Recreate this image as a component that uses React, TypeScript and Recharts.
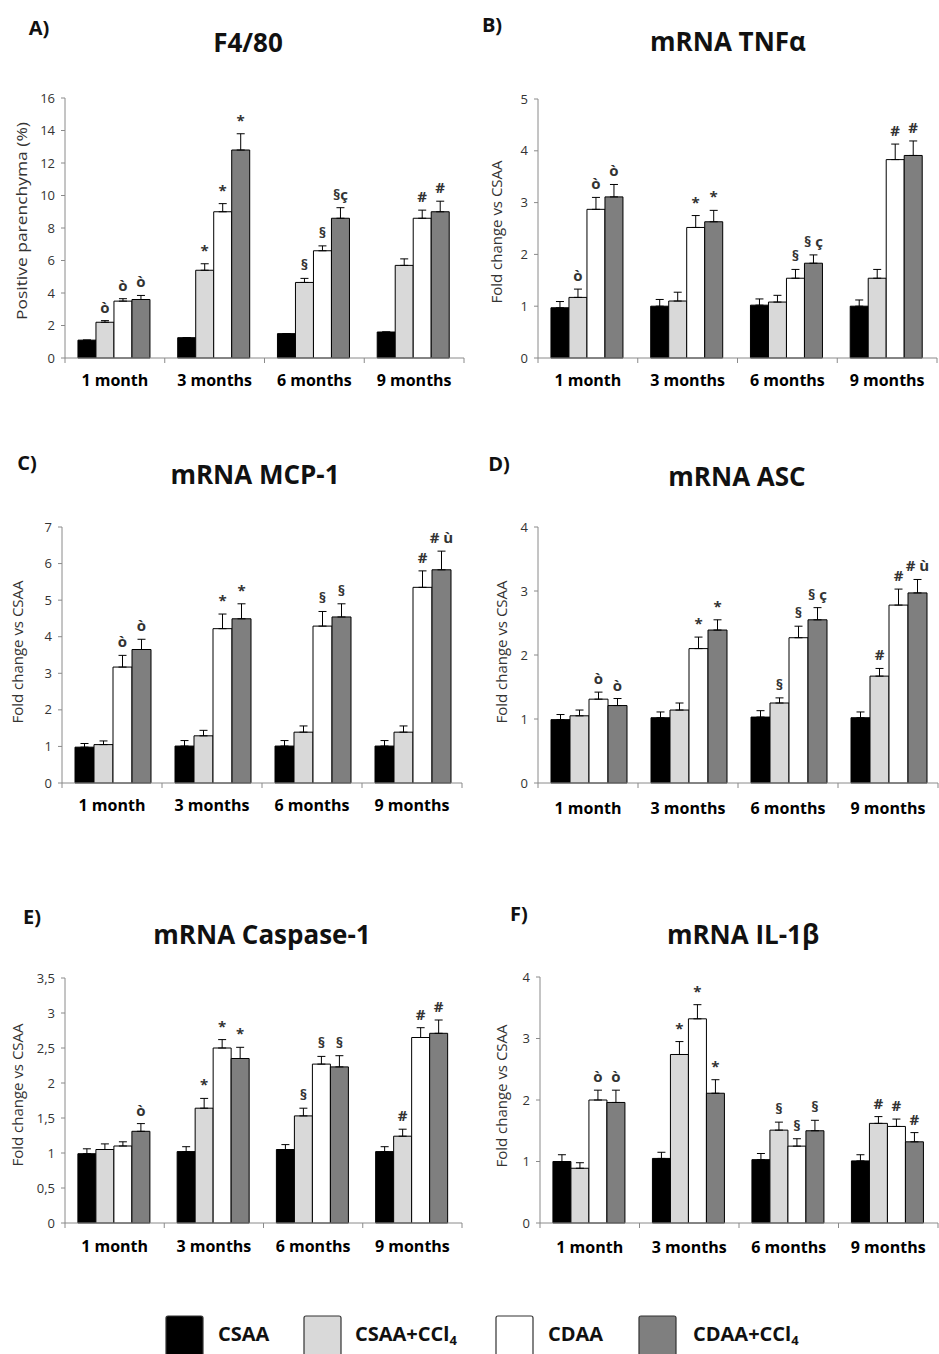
import { Bar, BarChart, ErrorBar, LabelList, XAxis, YAxis } from "recharts";

const months = ["1 month", "3 months", "6 months", "9 months"];
const groups = ["CSAA", "CSAA+CCl4", "CDAA", "CDAA+CCl4"];
const fills = ["#000000", "#d9d9d9", "#ffffff", "#7f7f7f"];

// one row per diet group, one value per month
const f480Mean = [
  [1.1, 1.25, 1.5, 1.6],
  [2.2, 5.4, 4.65, 5.7],
  [3.5, 9.0, 6.6, 8.6],
  [3.6, 12.8, 8.6, 9.0],
];
const f480Err = [
  [0, 0, 0, 0],
  [0.1, 0.4, 0.25, 0.4],
  [0.15, 0.5, 0.3, 0.5],
  [0.25, 1.0, 0.65, 0.65],
];
const f480Marks = [
  ["", "", "", ""],
  ["ò", "*", "§", ""],
  ["ò", "*", "§", "#"],
  ["ò", "*", "§ç", "#"],
];
const f480Ticks = [0, 2, 4, 6, 8, 10, 12, 14, 16];

const tnfMean = [
  [0.97, 1.0, 1.02, 1.0],
  [1.17, 1.1, 1.08, 1.54],
  [2.87, 2.52, 1.54, 3.83],
  [3.11, 2.63, 1.83, 3.91],
];
const tnfErr = [
  [0.12, 0.13, 0.12, 0.12],
  [0.16, 0.17, 0.13, 0.17],
  [0.23, 0.23, 0.17, 0.3],
  [0.24, 0.22, 0.16, 0.28],
];
const tnfMarks = [
  ["", "", "", ""],
  ["ò", "", "", ""],
  ["ò", "*", "§", "#"],
  ["ò", "*", "§ ç", "#"],
];
const tnfTicks = [0, 1, 2, 3, 4, 5];

const mcpMean = [
  [0.98, 1.01, 1.01, 1.01],
  [1.05, 1.29, 1.39, 1.39],
  [3.17, 4.22, 4.29, 5.35],
  [3.65, 4.49, 4.54, 5.83],
];
const mcpErr = [
  [0.1, 0.15, 0.15, 0.15],
  [0.1, 0.15, 0.17, 0.17],
  [0.32, 0.4, 0.4, 0.45],
  [0.28, 0.41, 0.36, 0.51],
];
const mcpMarks = [
  ["", "", "", ""],
  ["", "", "", ""],
  ["ò", "*", "§", "#"],
  ["ò", "*", "§", "# ù"],
];
const mcpTicks = [0, 1, 2, 3, 4, 5, 6, 7];

const ascMean = [
  [0.99, 1.02, 1.03, 1.02],
  [1.05, 1.14, 1.25, 1.67],
  [1.31, 2.1, 2.27, 2.78],
  [1.21, 2.39, 2.55, 2.97],
];
const ascErr = [
  [0.08, 0.09, 0.1, 0.09],
  [0.09, 0.11, 0.08, 0.12],
  [0.11, 0.18, 0.18, 0.25],
  [0.11, 0.16, 0.19, 0.21],
];
const ascMarks = [
  ["", "", "", ""],
  ["", "", "§", "#"],
  ["ò", "*", "§", "#"],
  ["ò", "*", "§ ç", "# ù"],
];
const ascTicks = [0, 1, 2, 3, 4];

const caspMean = [
  [0.99, 1.02, 1.05, 1.02],
  [1.05, 1.64, 1.53, 1.24],
  [1.1, 2.5, 2.27, 2.65],
  [1.31, 2.35, 2.23, 2.71],
];
const caspErr = [
  [0.07, 0.07, 0.07, 0.07],
  [0.08, 0.14, 0.11, 0.1],
  [0.06, 0.12, 0.11, 0.14],
  [0.11, 0.16, 0.16, 0.19],
];
const caspMarks = [
  ["", "", "", ""],
  ["", "*", "§", "#"],
  ["", "*", "§", "#"],
  ["ò", "*", "§", "#"],
];
const caspTicks = [0, 0.5, 1, 1.5, 2, 2.5, 3, 3.5];

const il1Mean = [
  [1.0, 1.05, 1.03, 1.01],
  [0.89, 2.74, 1.51, 1.62],
  [2.0, 3.32, 1.25, 1.57],
  [1.96, 2.11, 1.5, 1.32],
];
const il1Err = [
  [0.11, 0.1, 0.1, 0.1],
  [0.09, 0.21, 0.13, 0.11],
  [0.16, 0.23, 0.12, 0.12],
  [0.2, 0.22, 0.17, 0.15],
];
const il1Marks = [
  ["", "", "", ""],
  ["", "*", "§", "#"],
  ["ò", "*", "§", "#"],
  ["ò", "*", "§", "#"],
];
const il1Ticks = [0, 1, 2, 3, 4];

const font = "'Open Sans', 'DejaVu Sans', sans-serif";
const axisGrey = "#8a8a8a";
const yLabel = "Fold change vs CSAA";

const panels = [
  {
    letter: "A)", title: "F4/80", yLabel: "Positive parenchyma (%)",
    mean: f480Mean, err: f480Err, marks: f480Marks, ticks: f480Ticks, comma: false,
    box: { left: 0, top: 0, w: 470, h: 400 }, plot: { x0: 65, x1: 464, y0: 98, y1: 358 },
    letterAt: [39, 28], titleAt: [248, 43], yLabelAt: [22, 221, 198], tickDy: 28,
  },
  {
    letter: "B)", title: "mRNA TNFα", yLabel,
    mean: tnfMean, err: tnfErr, marks: tnfMarks, ticks: tnfTicks, comma: false,
    box: { left: 470, top: 0, w: 469, h: 400 }, plot: { x0: 68, x1: 467, y0: 99, y1: 358 },
    letterAt: [492, 25], titleAt: [728, 42], yLabelAt: [497, 232, 143], tickDy: 28,
  },
  {
    letter: "C)", title: "mRNA MCP-1", yLabel,
    mean: mcpMean, err: mcpErr, marks: mcpMarks, ticks: mcpTicks, comma: false,
    box: { left: 0, top: 440, w: 470, h: 400 }, plot: { x0: 62, x1: 462, y0: 87, y1: 343 },
    letterAt: [27, 463], titleAt: [255, 475], yLabelAt: [18, 652, 143], tickDy: 28,
  },
  {
    letter: "D)", title: "mRNA ASC", yLabel,
    mean: ascMean, err: ascErr, marks: ascMarks, ticks: ascTicks, comma: false,
    box: { left: 470, top: 440, w: 469, h: 400 }, plot: { x0: 68, x1: 468, y0: 87, y1: 343 },
    letterAt: [499, 464], titleAt: [737, 477], yLabelAt: [502, 652, 143], tickDy: 31,
  },
  {
    letter: "E)", title: "mRNA Caspase-1", yLabel,
    mean: caspMean, err: caspErr, marks: caspMarks, ticks: caspTicks, comma: true,
    box: { left: 0, top: 890, w: 470, h: 380 }, plot: { x0: 65, x1: 462, y0: 88, y1: 333 },
    letterAt: [32, 917], titleAt: [262, 935], yLabelAt: [18, 1095, 143], tickDy: 29,
  },
  {
    letter: "F)", title: "mRNA IL-1β", yLabel,
    mean: il1Mean, err: il1Err, marks: il1Marks, ticks: il1Ticks, comma: false,
    box: { left: 470, top: 890, w: 469, h: 380 }, plot: { x0: 70, x1: 468, y0: 87, y1: 333 },
    letterAt: [519, 914], titleAt: [743, 935], yLabelAt: [502, 1096, 143], tickDy: 30,
  },
];

const legendSwatchX = [166, 304, 496, 639];
const legendTextX = [218, 355, 548, 693];

function markLabel(rows: any[], k: number) {
  return (props: any) => {
    const text = props.value;
    if (!text) return null;
    const vb = props.viewBox ?? props;
    const { x, y, width, height } = vb;
    const row = rows[props.index ?? 0];
    const v = row[`v${k}`];
    const e = row[`e${k}`][1];
    const top = y - (e * height) / v;
    return (
      <text x={x + width / 2} y={top - 8} textAnchor="middle" fontSize={15} fontWeight={700} fill="#333" fontFamily={font}>
        {text}
      </text>
    );
  };
}

function MonthTick(props: any) {
  const { x, y, payload, index, visibleTicksCount, band, dy } = props;
  return (
    <g>
      <line x1={x - band / 2} x2={x - band / 2} y1={y} y2={y + 5} stroke={axisGrey} />
      {index === visibleTicksCount - 1 ? (
        <line x1={x + band / 2} x2={x + band / 2} y1={y} y2={y + 5} stroke={axisGrey} />
      ) : null}
      <text x={x} y={y + dy} textAnchor="middle" fontSize={16} fontWeight={700} fill="#000" fontFamily={font}>
        {payload.value}
      </text>
    </g>
  );
}

function Panel({ p }: { p: any }) {
  const rows = months.map((m, i) => {
    const r: any = { month: m };
    groups.forEach((_, k) => {
      r[`v${k}`] = p.mean[k][i];
      r[`e${k}`] = [0, p.err[k][i]];
      r[`m${k}`] = p.marks[k][i];
    });
    return r;
  });
  const yAxisW = 40;
  const xAxisH = 40;
  const margin = {
    top: p.plot.y0,
    left: p.plot.x0 - yAxisW,
    right: p.box.w - p.plot.x1,
    bottom: p.box.h - p.plot.y1 - xAxisH,
  };
  const band = (p.plot.x1 - p.plot.x0) / months.length;
  const max = p.ticks[p.ticks.length - 1];

  return (
    <div style={{ position: "absolute", left: p.box.left, top: p.box.top }}>
      <BarChart width={p.box.w} height={p.box.h} data={rows} margin={margin} barCategoryGap="13%" barGap={0}>
        <XAxis
          dataKey="month"
          height={xAxisH}
          axisLine={{ stroke: axisGrey }}
          tickLine={false}
          tickSize={0}
          tickMargin={0}
          interval={0}
          tick={(t: any) => <MonthTick {...t} band={band} dy={p.tickDy} />}
        />
        <YAxis
          width={yAxisW}
          type="number"
          domain={[0, max]}
          ticks={p.ticks}
          interval={0}
          axisLine={{ stroke: axisGrey }}
          tickLine={{ stroke: axisGrey }}
          tickSize={4}
          tickMargin={6}
          tick={{ fill: "#333", fontSize: 13, fontFamily: font }}
          tickFormatter={(v: number) => (p.comma ? String(v).replace(".", ",") : String(v))}
        />
        {groups.map((g, k) => (
          <Bar key={g} dataKey={`v${k}`} name={g} fill={fills[k]} stroke="#000" strokeWidth={1} isAnimationActive={false}>
            <ErrorBar dataKey={`e${k}`} width={4} stroke="#000" strokeWidth={1} direction="y" />
            <LabelList dataKey={`m${k}`} content={markLabel(rows, k)} />
          </Bar>
        ))}
      </BarChart>
    </div>
  );
}

export default function App() {
  return (
    <div style={{ position: "absolute", left: 0, top: 0, width: 939, height: 1354, background: "#fff", overflow: "hidden" }}>
      {panels.map((p) => (
        <Panel key={p.letter} p={p} />
      ))}
      <svg width={939} height={1354} style={{ position: "absolute", left: 0, top: 0, pointerEvents: "none" }} fontFamily={font}>
        {panels.map((p) => (
          <g key={p.letter}>
            <text x={p.letterAt[0]} y={p.letterAt[1] + 7} textAnchor="middle" fontSize={20} fontWeight={700} fill="#111">
              {p.letter}
            </text>
            <text x={p.titleAt[0]} y={p.titleAt[1] + 9} textAnchor="middle" fontSize={26} fontWeight={700} fill="#111">
              {p.title}
            </text>
            <text
              transform={`translate(${p.yLabelAt[0]},${p.yLabelAt[1]}) rotate(-90)`}
              x={0}
              y={5}
              textAnchor="middle"
              fontSize={15}
              fill="#333"
              textLength={p.yLabelAt[2]}
              lengthAdjust="spacingAndGlyphs"
            >
              {p.yLabel}
            </text>
          </g>
        ))}
        {groups.map((g, k) => (
          <g key={g}>
            <rect x={legendSwatchX[k]} y={1316} width={37} height={44} fill={fills[k]} stroke="#333" strokeWidth={1.2} rx={2} />
            <text x={legendTextX[k]} y={1341} fontSize={20} fontWeight={700} fill="#111">
              {g.endsWith("4") ? g.slice(0, -1) : g}
              {g.endsWith("4") ? (
                <tspan fontSize={13} dy={4}>
                  4
                </tspan>
              ) : null}
            </text>
          </g>
        ))}
      </svg>
    </div>
  );
}
